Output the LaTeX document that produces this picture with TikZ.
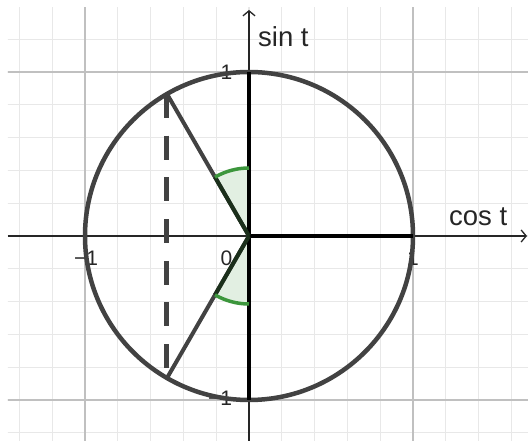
\documentclass[tikz,border=0pt]{standalone}
\usepackage{fontspec}
\setmainfont{Liberation Sans}
\usetikzlibrary{arrows.meta}
\definecolor{minorg}{RGB}{232,232,232}
\definecolor{majorg}{RGB}{192,192,192}
\definecolor{curve}{RGB}{66,66,66}
\definecolor{angfill}{RGB}{226,239,226}
\definecolor{angarc}{RGB}{60,150,60}
\definecolor{angedge}{RGB}{27,47,27}
\begin{document}
\begin{tikzpicture}[x=164pt,y=164pt,
  minorgrid/.style={draw=minorg,line width=1.2pt},
  majorgrid/.style={draw=majorg,line width=1.6pt},
  axis/.style={draw=black!85,line width=1.3pt,-{Straight Barb[length=5pt,width=12pt]}},
  unitcircle/.style={draw=curve,line width=4.5pt},
  radline/.style={draw=curve,line width=4pt},
  blackseg/.style={draw=black,line width=3.8pt},
  dashseg/.style={draw=curve,line width=5pt,dash pattern=on 24pt off 17.7pt},
  sector/.style={fill=angfill},
  arcline/.style={draw=angarc,line width=3.5pt},
  edgeline/.style={draw=angedge,line width=4pt},
  ticklab/.style={inner sep=0pt,font=\fontsize{21pt}{21pt}\selectfont,text=black!85},
  axlab/.style={inner sep=0pt,font=\fontsize{27.5pt}{27.5pt}\selectfont,text=black!85}]
\useasboundingbox (-249pt,-205pt) rectangle (279pt,236pt);
\fill[white] (-249pt,-205pt) rectangle (279pt,236pt);
% grid
\begin{scope}
\clip (-241pt,-205pt) rectangle (279pt,228pt);
\foreach \i in {-7,...,8}{\draw[minorgrid] (\i*0.2,-1.3) -- (\i*0.2,1.45);}
\foreach \i in {-6,...,7}{\draw[minorgrid] (-1.6,\i*0.2) -- (1.8,\i*0.2);}
\draw[majorgrid] (-1,-1.3) -- (-1,1.45) (1,-1.3) -- (1,1.45) (-1.6,-1) -- (1.8,-1) (-1.6,1) -- (1.8,1);
\end{scope}
% points
\coordinate (O) at (0,0);
\coordinate (A) at (120:1);
\coordinate (B) at (240:1);
\coordinate (E) at (1,0);
\coordinate (N) at (0,1);
\coordinate (S) at (0,-1);
\coordinate (xl) at (-241pt,0);
\coordinate (xr) at (278pt,0);
\coordinate (yb) at (0,-205pt);
\coordinate (yt) at (0,226pt);
\coordinate (a1) at (0,68pt);
\coordinate (a2) at (120:68pt);
\coordinate (b1) at (240:68pt);
\coordinate (b2) at (0,-68pt);
% axes
\draw[axis] (xl) -- (xr);
\draw[axis] (yb) -- (yt);
% labels
\node[axlab,anchor=base west] (sinl) at (9pt,189pt) {sin t};
\node[axlab,anchor=base west] (cosl) at (200pt,10pt) {cos t};
\node[ticklab,anchor=base] (l1x) at (164pt,-30pt) {1};
\node[ticklab,anchor=base] (lm1x) at (-163pt,-30pt) {−1};
\node[ticklab,anchor=base] (l0) at (-22.5pt,-30pt) {0};
\node[ticklab,anchor=base] (l1y) at (-22.5pt,156pt) {1};
\node[ticklab,anchor=base] (lm1y) at (-29pt,-170pt) {−1};
% angle sectors
\fill[sector] (O) -- (a1) arc[start angle=90,end angle=120,radius=68pt] -- cycle;
\fill[sector] (O) -- (b1) arc[start angle=240,end angle=270,radius=68pt] -- cycle;
% circle and segments
\draw[unitcircle] (O) circle[radius=1];
\draw[dashseg] (A) -- (B);
\draw[radline] (O) -- (A);
\draw[radline] (O) -- (B);
\draw[blackseg] (S) -- (N);
\draw[blackseg] (O) -- (E);
% angle strokes
\draw[edgeline] (O) -- (a2);
\draw[edgeline] (O) -- (b1);
\draw[arcline] (a1) arc[start angle=90,end angle=120,radius=68pt];
\draw[arcline] (b1) arc[start angle=240,end angle=270,radius=68pt];
\end{tikzpicture}
\end{document}
